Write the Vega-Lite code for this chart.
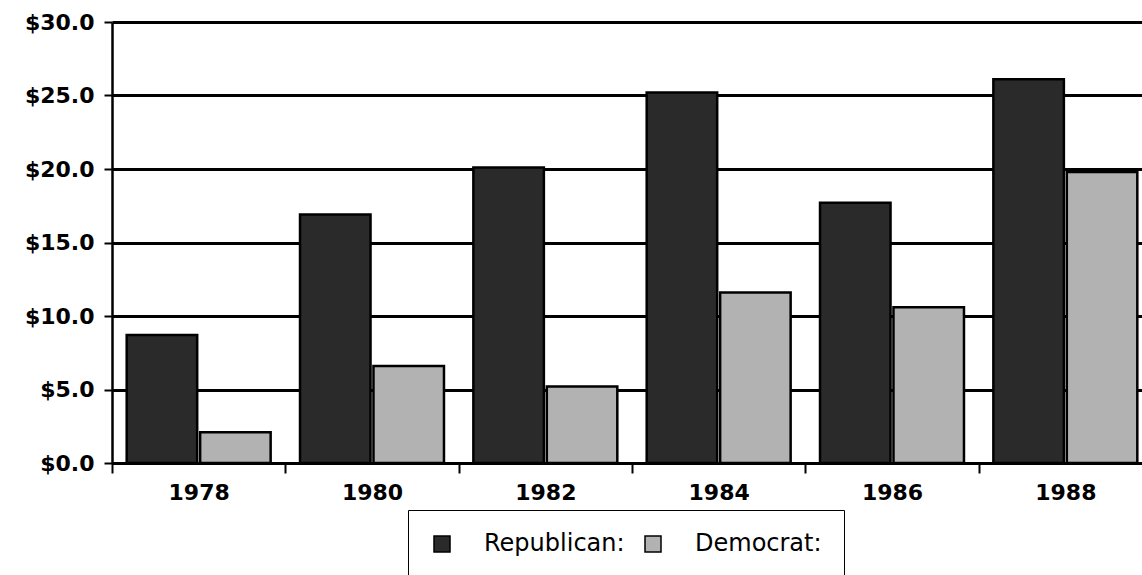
{
  "$schema": "https://vega.github.io/schema/vega-lite/v6.json",
  "autosize": {"type": "none"},
  "padding": {"left": 112, "top": 22, "right": 0, "bottom": 112},
  "width": 1040,
  "height": 441,
  "background": "white",
  "data": {
    "values": [
      {"year": "1978", "party": "Republican", "value": 8.7},
      {"year": "1978", "party": "Democrat", "value": 2.1},
      {"year": "1980", "party": "Republican", "value": 16.9},
      {"year": "1980", "party": "Democrat", "value": 6.6},
      {"year": "1982", "party": "Republican", "value": 20.1},
      {"year": "1982", "party": "Democrat", "value": 5.2},
      {"year": "1984", "party": "Republican", "value": 25.2},
      {"year": "1984", "party": "Democrat", "value": 11.6},
      {"year": "1986", "party": "Republican", "value": 17.7},
      {"year": "1986", "party": "Democrat", "value": 10.6},
      {"year": "1988", "party": "Republican", "value": 26.1},
      {"year": "1988", "party": "Democrat", "value": 19.8}
    ]
  },
  "mark": {"type": "bar", "stroke": "black", "strokeWidth": 2.5},
  "encoding": {
    "x": {
      "field": "year",
      "type": "nominal",
      "scale": {"paddingInner": 0, "paddingOuter": 0},
      "axis": {
        "title": null,
        "labelAngle": 0,
        "tickBand": "extent",
        "tickSize": 10,
        "tickWidth": 2,
        "tickColor": "black",
        "domainColor": "black",
        "domainWidth": 2.5,
        "labelFont": "DejaVu Sans",
        "labelFontWeight": "bold",
        "labelFontSize": 22,
        "labelColor": "black",
        "labelPadding": 9
      }
    },
    "xOffset": {
      "field": "party",
      "type": "nominal",
      "sort": ["Republican", "Democrat"],
      "scale": {"paddingInner": 0.04, "paddingOuter": 0.2}
    },
    "y": {
      "field": "value",
      "type": "quantitative",
      "scale": {"domain": [0, 30], "nice": false},
      "axis": {
        "title": null,
        "values": [0, 5, 10, 15, 20, 25, 30],
        "labelExpr": "'$' + format(datum.value, '.1f')",
        "grid": true,
        "gridColor": "black",
        "gridWidth": 3,
        "gridOpacity": 1,
        "tickSize": 8,
        "tickWidth": 2,
        "tickColor": "black",
        "domainColor": "black",
        "domainWidth": 2.5,
        "labelFont": "DejaVu Sans",
        "labelFontWeight": "bold",
        "labelFontSize": 22,
        "labelColor": "black",
        "labelPadding": 10
      }
    },
    "color": {
      "field": "party",
      "type": "nominal",
      "scale": {"domain": ["Republican", "Democrat"], "range": ["#2a2a2a", "#b2b2b2"]},
      "legend": {
        "title": null,
        "orient": "none",
        "legendX": 296,
        "legendY": 488,
        "direction": "horizontal",
        "columns": 2,
        "gridAlign": "all",
        "strokeColor": "black",
        "padding": 22,
        "symbolType": "square",
        "symbolSize": 256,
        "symbolStrokeColor": "black",
        "symbolStrokeWidth": 1.5,
        "symbolOpacity": 1,
        "labelOffset": 30,
        "columnPadding": 16,
        "labelFont": "DejaVu Sans",
        "labelFontSize": 24,
        "labelColor": "black",
        "labelLimit": 300,
        "labelExpr": "datum.label + ':'"
      }
    }
  },
  "config": {
    "view": {"stroke": null},
    "axis": {"gridZIndex": 0}
  }
}
